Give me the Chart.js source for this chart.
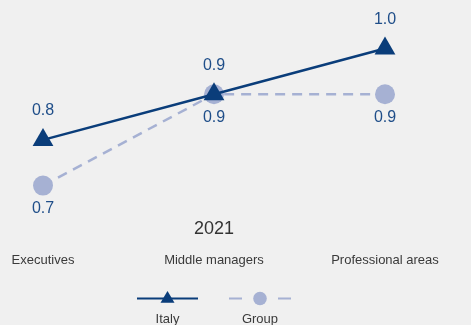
<!DOCTYPE html>
<html>
<head>
<meta charset="utf-8">
<script src="https://cdn.jsdelivr.net/npm/chart.js@4.4.1/dist/chart.umd.min.js"></script>
<style>
  html, body { margin: 0; padding: 0; background: #f0f0f0; }
  .wrap { position: relative; width: 471px; height: 325px; font-family: "Liberation Sans", Arial, sans-serif; }
  .wrap canvas { position: absolute; left: 0; top: 0; }
  .legend { position: absolute; left: 0; top: 280px; }
  .legend text { font-size: 13px; fill: #3a3a3a; font-family: "Liberation Sans", Arial, sans-serif; }
</style>
</head>
<body>
<div class="wrap">
  <canvas id="chart" width="471" height="325"></canvas>
  <svg class="legend" width="471" height="45">
    <line x1="137" y1="18.5" x2="198" y2="18.5" stroke="#0a3d7a" stroke-width="2"/>
    <polygon points="160.5,22.7 174.5,22.7 167.5,11" fill="#0a3d7a"/>
    <text x="167.5" y="42.5" text-anchor="middle">Italy</text>
    <line x1="229" y1="18.5" x2="242" y2="18.5" stroke="#a6b1d3" stroke-width="2"/>
    <line x1="278" y1="18.5" x2="291" y2="18.5" stroke="#a6b1d3" stroke-width="2"/>
    <circle cx="260" cy="18.5" r="6.8" fill="#a6b1d3"/>
    <text x="260" y="42.5" text-anchor="middle">Group</text>
  </svg>
</div>
<script>
const categories = ['Executives', 'Middle managers', 'Professional areas'];
const italy = [0.8, 0.9, 1.0];
const group = [0.7, 0.9, 0.9];
const yearLabel = '2021';

const ITALY_COLOR = '#0a3d7a';
const GROUP_COLOR = '#a6b1d3';
const FONT = '"Liberation Sans", Arial, sans-serif';

// value label offsets from the point, in pixels (Italy above, Group below)
const LABEL_OFFSET = [-29, 23];

const valueLabels = {
  id: 'valueLabels',
  afterDatasetsDraw(chart) {
    const ctx = chart.ctx;
    ctx.save();
    ctx.font = '16px ' + FONT;
    ctx.fillStyle = '#1f4e89';
    ctx.textAlign = 'center';
    ctx.textBaseline = 'middle';
    chart.data.datasets.forEach((ds, i) => {
      chart.getDatasetMeta(i).data.forEach((pt, j) => {
        ctx.fillText(ds.data[j].toFixed(1), pt.x, pt.y + LABEL_OFFSET[i]);
      });
    });
    ctx.restore();
  },
};

new Chart(document.getElementById('chart'), {
  type: 'line',
  data: {
    labels: categories,
    datasets: [
      {
        label: 'Italy',
        data: italy,
        borderColor: ITALY_COLOR,
        backgroundColor: ITALY_COLOR,
        borderWidth: 2.5,
        pointStyle: 'triangle',
        pointRadius: 12,
        pointBorderWidth: 0,
        tension: 0,
      },
      {
        label: 'Group',
        data: group,
        borderColor: GROUP_COLOR,
        backgroundColor: GROUP_COLOR,
        borderWidth: 2.5,
        borderDash: [10, 7],
        pointStyle: 'circle',
        pointRadius: 10,
        pointBorderWidth: 0,
        tension: 0,
      },
    ],
  },
  options: {
    responsive: false,
    animation: false,
    layout: { padding: { top: 6, left: 43, right: 86, bottom: 50 } },
    plugins: {
      legend: { display: false },
      tooltip: { enabled: false },
    },
    scales: {
      y: { display: false, min: 0.64, max: 1.08 },
      x: {
        weight: 0,
        grid: { display: false },
        border: { display: false },
        ticks: { display: false },
        title: {
          display: true,
          text: yearLabel,
          color: '#333333',
          font: { family: FONT, size: 18 },
          padding: { top: 0, bottom: 3 },
        },
        afterFit(scale) { scale.height = 30; },
      },
      x2: {
        type: 'category',
        position: 'bottom',
        weight: 1,
        labels: categories,
        grid: { display: false },
        border: { display: false },
        ticks: {
          color: '#3a3a3a',
          padding: 2,
          maxRotation: 0,
          autoSkip: false,
          font: { family: FONT, size: 13 },
        },
        afterFit(scale) { scale.height = 32; },
      },
    },
  },
  plugins: [valueLabels],
});
</script>
</body>
</html>
